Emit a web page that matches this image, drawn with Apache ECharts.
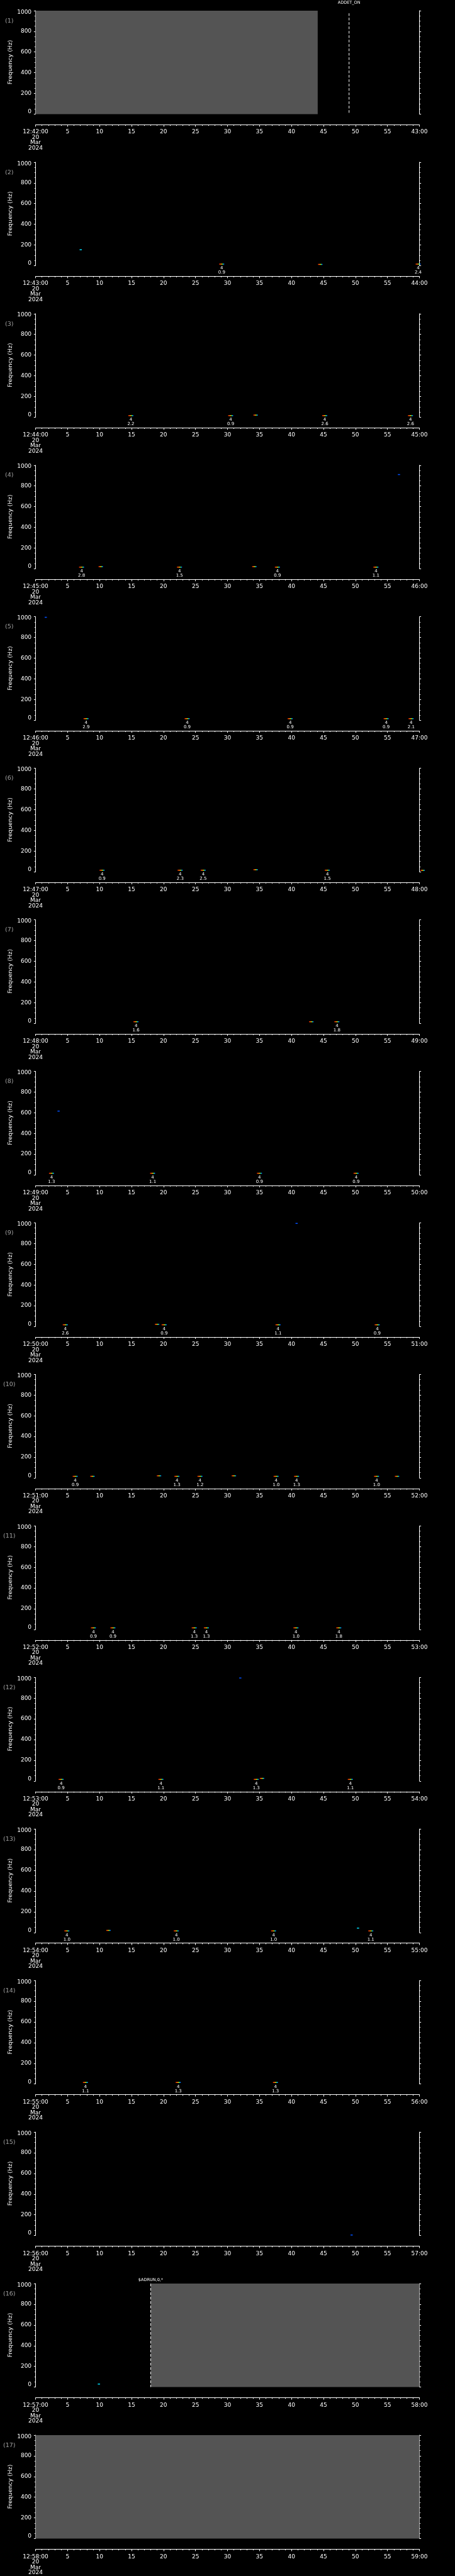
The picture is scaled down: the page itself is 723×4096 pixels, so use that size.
<!DOCTYPE html>
<html><head><meta charset="utf-8">
<script src="https://cdn.jsdelivr.net/npm/echarts@6/dist/echarts.min.js"></script>
<style>html,body{margin:0;padding:0;background:#000;}#c{width:723px;height:4096px;}</style>
</head><body><div id="c"></div>
<script>
// ---------- DATA ----------
const panelNames = ['(1)','(2)','(3)','(4)','(5)','(6)','(7)','(8)','(9)','(10)','(11)','(12)','(13)','(14)','(15)','(16)','(17)'];
const minuteStarts = ['12:42:00','12:43:00','12:44:00','12:45:00','12:46:00','12:47:00','12:48:00','12:49:00','12:50:00','12:51:00','12:52:00','12:53:00','12:54:00','12:55:00','12:56:00','12:57:00','12:58:00'];
const minuteEnds = ['43:00','44:00','45:00','46:00','47:00','48:00','49:00','50:00','51:00','52:00','53:00','54:00','55:00','56:00','57:00','58:00','59:00'];
const dateLines = ['20','Mar','2024'];
const yAxisTitle = 'Frequency (Hz)';
const freqRange = [0, 1000];
const timeRange = [0, 60];

// labelled detections per panel: [second, count, amplitude]
const detections = [
  [],
  [[29.1,'4','0.9'],[59.8,'4','2.4']],
  [[14.9,'4','2.2'],[30.5,'4','0.9'],[45.2,'4','2.6'],[58.6,'4','2.6']],
  [[7.2,'4','2.8'],[22.5,'4','1.5'],[37.8,'4','0.9'],[53.2,'4','1.1']],
  [[7.9,'4','2.9'],[23.7,'4','0.9'],[39.8,'4','0.9'],[54.8,'4','0.9'],[58.7,'4','2.1']],
  [[10.4,'4','0.9'],[22.6,'4','2.3'],[26.2,'4','2.5'],[45.6,'4','1.5']],
  [[15.7,'4','1.6'],[47.1,'4','1.8']],
  [[2.5,'4','1.3'],[18.3,'4','1.1'],[35.0,'4','0.9'],[50.1,'4','0.9']],
  [[4.65,'4','2.6'],[20.1,'4','0.9'],[37.9,'4','1.1'],[53.4,'4','0.9']],
  [[6.2,'4','0.9'],[22.1,'4','1.3'],[25.7,'4','1.2'],[37.6,'4','1.0'],[40.8,'4','1.3'],[53.3,'4','1.0']],
  [[9.05,'4','0.9'],[12.1,'4','0.9'],[24.8,'4','1.3'],[26.7,'4','1.3'],[40.7,'4','1.0'],[47.4,'4','1.8']],
  [[4.0,'4','0.9'],[19.6,'4','1.1'],[34.5,'4','1.3'],[49.2,'4','1.1']],
  [[4.9,'4','1.0'],[22.0,'4','1.0'],[37.2,'4','1.0'],[52.4,'4','1.1']],
  [[7.8,'4','1.1'],[22.3,'4','1.3'],[37.5,'4','1.3']],
  [],
  [],
  []
];
// unlabelled spectral fragments per panel: [second, frequency, kind]
const fragments = [
  [],
  [[7.06,154,'cyan'],[44.5,12,'warm']],
  [[34.4,20,'warm']],
  [[10.2,20,'warm'],[34.2,20,'warm'],[56.8,910,'blue']],
  [[1.6,995,'blue']],
  [[34.4,20,'warm'],[60.5,14,'warm']],
  [[43.1,15,'warm']],
  [[3.6,616,'blue']],
  [[19.0,20,'warm'],[40.8,995,'blue']],
  [[8.9,15,'warm'],[19.3,20,'warm'],[31.0,20,'warm'],[56.5,15,'warm']],
  [],
  [[35.4,25,'warm'],[32.0,995,'blue']],
  [[11.4,20,'warm'],[50.4,42,'cyan']],
  [],
  [[49.4,5,'blue']],
  [[9.9,29,'cyan']],
  []
];
// data gaps (grey blocks): [panel index, start second, end second]
const dataGaps = [[0,0,44.1],[15,18,60],[16,0,60]];
// commands: [panel index, second, text]
const commands = [[0,49.0,'ADDET_ON'],[15,18.0,'$ADRUN,0,*']];

// ---------- LAYOUT ----------
const S = 723/1024;
const PH = 4096/17;
const FONT = 'DejaVu Sans';
const grids=[], xAxes=[], yAxes=[], series=[], graphics=[];
const warmGrad = {type:'linear',x:0,y:0,x2:1,y2:0,colorStops:[
  {offset:0,color:'#ff2000'},{offset:0.35,color:'#ff8000'},{offset:0.55,color:'#ffe000'},
  {offset:0.7,color:'#20ff60'},{offset:0.85,color:'#00c0ff'},{offset:1,color:'#0030ff'}]};
const fragColor = {warm:warmGrad, cyan:'#00e0ff', blue:'#0050ff'};
const yLabelRich = {
  t:{color:'#fff',fontFamily:FONT,fontSize:9,padding:[4.6,0,0,0]},
  b:{color:'#fff',fontFamily:FONT,fontSize:9,padding:[0,0,7,0]}
};

for (let i=0;i<17;i++){
  const top = i*PH + 24*S;
  grids.push({left:80*S, top:top, width:864*S, height:233*S, containLabel:false});
  xAxes.push({type:'value', gridIndex:i, min:timeRange[0], max:timeRange[1], interval:5, position:'bottom', offset:24*S,
    axisLine:{show:true,onZero:false,lineStyle:{color:'#fff',width:1}},
    axisTick:{show:true,length:3,lineStyle:{color:'#fff'}},
    minorTick:{show:true,splitNumber:5,length:1.7,lineStyle:{color:'#fff'}},
    splitLine:{show:false}, minorSplitLine:{show:false},
    axisLabel:{color:'#fff',fontFamily:FONT,fontSize:9,lineHeight:8.5,margin:7.5,showMinLabel:true,showMaxLabel:true,
      formatter:(v)=> v===0 ? [minuteStarts[i]].concat(dateLines).join('\n') : (v===60 ? minuteEnds[i] : String(v))}
  });
  const yBase = {type:'value', gridIndex:i, min:freqRange[0], max:freqRange[1], interval:200,
    axisLine:{show:true,lineStyle:{color:'#fff',width:1}},
    axisTick:{show:true,length:2.6,lineStyle:{color:'#fff'}},
    minorTick:{show:true,splitNumber:4,length:1.6,lineStyle:{color:'#fff'}},
    splitLine:{show:false}, minorSplitLine:{show:false}};
  yAxes.push(Object.assign({}, yBase, {position:'left',
    axisLabel:{color:'#fff',fontFamily:FONT,fontSize:9,margin:6.4,rich:yLabelRich,
      formatter:(v)=> v===freqRange[1] ? '{t|'+v+'}' : (v===freqRange[0] ? '{b|'+v+'}' : String(v))}}));
  yAxes.push(Object.assign({}, yBase, {position:'right', axisLabel:{show:false}}));

  graphics.push({type:'text', x:21*S, y:i*PH+47*S, style:{text:panelNames[i], fill:'#a0a0a0', font:'9.5px "'+FONT+'"', align:'center', verticalAlign:'middle'}});
  graphics.push({type:'text', x:23*S, y:i*PH+140*S, rotation:Math.PI/2, style:{text:yAxisTitle, fill:'#fff', font:'9.4px "'+FONT+'"', align:'center', verticalAlign:'middle'}});

  // grey data gaps
  const gaps = dataGaps.filter(g=>g[0]===i).map(g=>[g[1],g[2]]);
  if (gaps.length) series.push({type:'custom', xAxisIndex:i, yAxisIndex:2*i, data:gaps, silent:true, z:1,
    renderItem:(p,api)=>{const a=api.coord([api.value(0),freqRange[1]]), b=api.coord([api.value(1),freqRange[0]]);
      return {type:'rect', shape:{x:a[0],y:a[1],width:b[0]-a[0],height:b[1]-a[1]}, style:{fill:'#545454'}};}});

  // commands
  const cmds = commands.filter(c=>c[0]===i).map(c=>[c[1],c[2]]);
  if (cmds.length) series.push({type:'custom', xAxisIndex:i, yAxisIndex:2*i, data:cmds, silent:true, clip:false, z:3,
    renderItem:(p,api)=>{const a=api.coord([api.value(0),freqRange[1]]), b=api.coord([api.value(0),freqRange[0]]);
      const txt = cmds[p.dataIndex][1];
      const first = i===0;
      return {type:'group', children:[
        {type:'line', shape:{x1:a[0],y1:a[1]+(first?4.2:0),x2:b[0],y2:b[1]}, style:{stroke:'#fff',lineWidth:1,lineDash:[4.2,2.8]}},
        {type:'text', x:a[0], y:a[1]-(first?12.7:6), style:{text:txt, fill:'#fff', font:'6.5px "'+FONT+'"', align:'center', verticalAlign:'middle'}}
      ]};}});

  // labelled detections
  const det = detections[i];
  if (det.length) series.push({type:'custom', xAxisIndex:i, yAxisIndex:2*i, data:det.map(d=>[d[0],15]), silent:true, clip:false, z:4,
    renderItem:(p,api)=>{const c=api.coord([api.value(0),api.value(1)]); const base=api.coord([api.value(0),freqRange[0]]);
      const w=api.size([0.8,0])[0]; const d=det[p.dataIndex];
      return {type:'group', children:[
        {type:'rect', shape:{x:c[0]-w/2,y:c[1]-0.75,width:w,height:1.5}, style:{fill:warmGrad}},
        {type:'text', x:c[0], y:base[1]+4.2, style:{text:d[1], fill:'#fff', font:'7px "'+FONT+'"', align:'center', verticalAlign:'middle'}},
        {type:'text', x:c[0], y:base[1]+11, style:{text:d[2], fill:'#fff', font:'7px "'+FONT+'"', align:'center', verticalAlign:'middle'}}
      ]};}});

  // unlabelled fragments
  const fr = fragments[i];
  if (fr.length) series.push({type:'custom', xAxisIndex:i, yAxisIndex:2*i, data:fr.map(f=>[f[0],f[1]]), silent:true, clip:false, z:4,
    renderItem:(p,api)=>{const c=api.coord([api.value(0),api.value(1)]); const k=fr[p.dataIndex][2];
      const w = k==='warm'? api.size([0.7,0])[0] : 3.5;
      return {type:'rect', shape:{x:c[0]-w/2,y:c[1]-0.75,width:w,height:1.5}, style:{fill:fragColor[k]}};}});
}

const chart = echarts.init(document.getElementById('c'), null, {renderer:'canvas', width:723, height:4096});
chart.setOption({backgroundColor:'#000', animation:false, grid:grids, xAxis:xAxes, yAxis:yAxes, series:series, graphic:graphics});
</script></body></html>
